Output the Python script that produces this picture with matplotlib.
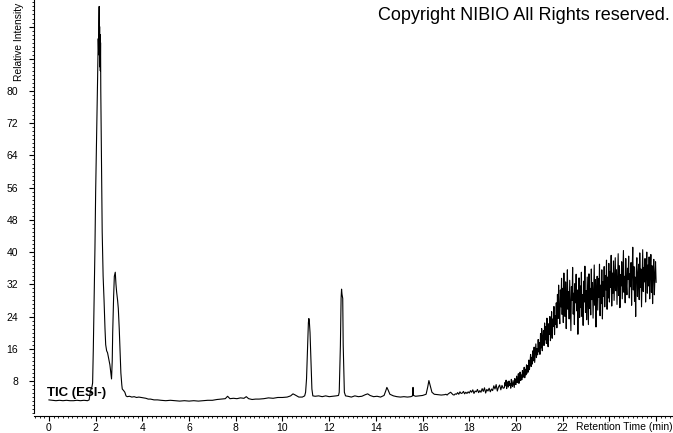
import numpy as np
import matplotlib
matplotlib.use("Agg")
import matplotlib.pyplot as plt
from matplotlib.ticker import MultipleLocator, FixedLocator, FuncFormatter

plt.rcParams["font.family"] = ["Liberation Sans", "DejaVu Sans"]

# Retention time (min) / relative intensity, peak region read point by point
peak_time = [
    0.00, 0.15, 0.30, 0.45, 0.60, 0.75, 0.90, 1.05, 1.20, 1.35, 1.50, 1.65,
    1.72, 1.76, 1.80, 1.84, 1.87, 1.90, 1.94, 1.97, 2.00, 2.04, 2.08, 2.11,
    2.13, 2.14, 2.15, 2.16, 2.17, 2.18, 2.19, 2.20, 2.21, 2.22, 2.24, 2.28,
    2.32, 2.36, 2.40, 2.43, 2.47, 2.51, 2.56, 2.61, 2.65, 2.68, 2.71, 2.73,
    2.77, 2.80, 2.84, 2.87, 2.90, 2.94, 2.97, 3.01, 3.04, 3.08, 3.12, 3.14,
    3.20, 3.25, 3.30, 3.35, 3.45, 3.55, 3.65, 3.75, 3.85, 3.95, 4.05, 4.15,
    4.25, 4.35, 4.50, 4.65, 4.80, 5.00, 5.20, 5.40, 5.60, 5.80, 6.00, 6.20,
    6.40, 6.60, 6.80, 7.00, 7.20, 7.40, 7.55, 7.65, 7.75, 7.90, 8.05, 8.20,
    8.35, 8.45, 8.55, 8.70, 8.85, 9.00, 9.20, 9.40, 9.60, 9.80, 10.00, 10.20,
    10.35, 10.45, 10.55, 10.70, 10.85, 10.95, 10.99, 11.03, 11.08, 11.11, 11.13, 11.15,
    11.18, 11.22, 11.26, 11.30, 11.40, 11.55, 11.70, 11.85, 12.00, 12.15, 12.30, 12.40,
    12.43, 12.48, 12.51, 12.53, 12.55, 12.58, 12.60, 12.65, 12.70, 12.80, 12.95, 13.10,
    13.25, 13.40, 13.55, 13.65, 13.75, 13.90, 14.05, 14.20, 14.35, 14.42, 14.47, 14.52,
    14.60, 14.75, 14.90, 15.05, 15.20, 15.35, 15.50, 15.57, 15.59, 15.61, 15.70, 15.85,
    16.00, 16.15, 16.22, 16.27, 16.32, 16.40, 16.50, 16.65, 16.80, 16.95,
]
peak_int = [
    3.3, 3.2, 3.1, 3.2, 3.1, 3.2, 3.1, 3.1, 3.2, 3.1, 3.2, 3.1,
    3.3, 4.8, 6.0, 6.5, 7.5, 16.0, 30.0, 41.0, 55.0, 68.0, 82.0, 93.0,
    89.0, 97.0, 101.0, 90.0, 96.0, 86.0, 94.0, 85.0, 92.0, 80.0, 68.0, 45.0,
    34.0, 28.0, 21.0, 17.0, 15.5, 15.0, 13.5, 12.0, 10.0, 8.5, 13.0, 20.0,
    29.0, 34.0, 35.0, 32.0, 30.0, 28.0, 26.0, 21.0, 16.0, 10.0, 7.0, 6.0,
    5.6, 5.2, 4.3, 4.1, 4.2, 4.0, 4.1, 3.9, 4.0, 3.9, 3.8, 3.7,
    3.5, 3.5, 3.3, 3.3, 3.2, 3.1, 3.2, 3.1, 3.0, 3.1, 3.0, 3.1,
    3.0, 3.1, 3.2, 3.2, 3.4, 3.5, 3.6, 4.2, 3.6, 3.7, 3.6, 3.8,
    3.7, 4.1, 3.6, 3.4, 3.5, 3.5, 3.6, 3.8, 3.7, 3.9, 3.9, 4.0,
    4.3, 4.8, 4.5, 4.0, 4.0, 4.3, 5.2, 8.5, 16.8, 22.5, 23.5, 22.8,
    20.0, 12.7, 6.0, 4.3, 4.2, 4.3, 4.1, 4.3, 4.1, 4.2, 4.3, 4.4,
    5.2, 16.8, 28.5, 30.8, 29.5, 28.5, 17.0, 5.2, 4.3, 4.2, 4.0, 4.3,
    4.1, 4.2, 4.6, 4.8, 4.4, 4.1, 4.2, 4.0, 4.4, 5.5, 6.4, 5.8,
    4.7, 4.3, 4.1, 4.0, 4.1, 4.0, 4.1, 4.3, 6.4, 4.4, 4.2, 4.3,
    4.4, 4.7, 6.5, 8.1, 7.0, 5.2, 4.7, 4.6, 4.5, 4.6,
]

# Slowly rising baseline, one reading every 0.05 min from 17.00 to 19.45
rise_start, rise_end = 17.0, 19.45
rise_int = [
    4.7, 4.5, 4.8, 5.0, 5.2, 4.9, 4.6, 4.5, 4.8, 4.7,
    5.1, 4.7, 5.3, 4.9, 5.0, 5.4, 4.8, 5.2, 4.9, 5.3,
    5.0, 5.6, 5.2, 5.8, 4.9, 5.5, 5.3, 5.9, 5.1, 5.6,
    5.2, 6.1, 5.4, 6.3, 5.0, 5.9, 5.5, 6.2, 5.3, 6.0,
    5.6, 6.8, 6.0, 7.1, 5.5, 6.5, 7.0, 5.8, 6.9, 6.2,
]

# Gradient / noisy region, one reading every 0.025 min from 19.50 to 26.00
noise_start, noise_end = 19.5, 26.0
noise_int = [
    6.3, 7.6, 6.8, 8.2, 6.1, 7.1, 7.8, 6.5, 8.0, 6.9,
    7.4, 6.2, 8.4, 7.0, 6.6, 8.1, 7.3, 6.4, 8.6, 7.2,
    7.1, 9.2, 7.6, 8.4, 9.8, 7.4, 9.0, 10.2, 8.1, 9.5,
    8.3, 10.6, 8.9, 9.7, 11.4, 8.8, 10.9, 9.5, 12.0, 9.9,
    11.8, 10.2, 13.2, 10.8, 12.5, 14.6, 11.6, 13.9, 12.2, 15.5,
    13.0, 16.4, 12.6, 15.0, 17.2, 13.8, 16.0, 14.5, 18.3, 15.2,
    17.5, 14.6, 19.8, 16.2, 21.0, 15.5, 18.8, 20.5, 16.8, 22.4,
    18.2, 21.5, 17.3, 23.6, 19.0, 16.5, 22.2, 19.6, 24.0, 18.0,
    20.8, 25.2, 18.6, 23.4, 21.6, 26.5, 19.5, 24.2, 22.0, 27.4,
    21.2, 29.5, 23.5, 31.8, 25.0, 22.2, 30.6, 26.4, 33.5, 24.5,
    31.0, 22.5, 34.8, 27.0, 24.0, 32.6, 21.0, 29.2, 35.6, 25.8,
    30.2, 23.4, 33.0, 26.6, 20.5, 31.4, 28.0, 36.2, 24.6, 29.8,
    22.0, 32.2, 27.4, 34.5, 25.4, 30.6, 19.6, 28.8, 33.6, 23.8,
    31.6, 26.2, 35.0, 24.0, 29.4, 21.8, 32.8, 27.6, 36.5, 25.0,
    30.4, 23.2, 33.8, 27.8, 22.0, 34.6, 26.0, 31.0, 24.4, 35.8,
    28.2, 32.4, 23.6, 30.8, 36.8, 26.8, 33.2, 21.4, 29.6, 34.0,
    25.6, 33.4, 28.8, 37.0, 24.2, 31.8, 27.2, 35.6, 23.4, 32.6,
    29.0, 36.4, 26.4, 34.2, 30.6, 38.0, 25.8, 33.8, 28.6, 37.2,
    27.6, 35.2, 31.2, 39.2, 26.6, 34.8, 29.8, 37.8, 28.0, 33.2,
    38.6, 30.4, 35.6, 27.0, 33.0, 39.6, 29.2, 36.6, 26.2, 34.4,
    31.6, 37.6, 28.4, 35.0, 40.4, 30.0, 34.0, 27.4, 38.4, 32.0,
    29.4, 36.0, 33.2, 39.0, 28.6, 34.6, 31.4, 37.4, 26.8, 35.4,
    41.2, 30.6, 36.4, 27.8, 33.8, 24.0, 35.2, 38.6, 29.0, 34.2,
    37.0, 28.2, 39.8, 31.2, 35.8, 26.4, 33.4, 40.6, 30.2, 36.2,
    32.6, 38.4, 27.6, 35.0, 40.0, 29.8, 36.8, 31.6, 38.8, 28.4,
    34.8, 39.4, 30.0, 36.6, 27.2, 35.6, 38.2, 29.4, 34.0, 37.6,
    32.5,
]

y_major = [8, 16, 24, 32, 40, 48, 56, 64, 72, 80, 88, 96]
y_labelled = [8, 16, 24, 32, 40, 48, 56, 64, 72, 80]
x_major = [0, 2, 4, 6, 8, 10, 12, 14, 16, 18, 20, 22, 24, 26]
x_labelled = [0, 2, 4, 6, 8, 10, 12, 14, 16, 18, 20, 22]

rise_time = np.linspace(rise_start, rise_end, len(rise_int))
noise_time = np.linspace(noise_start, noise_end, len(noise_int))
t = np.concatenate([peak_time, rise_time, noise_time])
y = np.concatenate([peak_int, rise_int, noise_int])

fig = plt.figure(figsize=(6.73, 4.33), dpi=100)
ax = fig.add_axes([34 / 673, 17 / 433, 638 / 673, 416 / 433])

ax.plot(t, y, color="black", lw=0.8)

ax.set_xlim(-0.64, 26.68)
ax.set_ylim(-0.7, 102.6)

# Axes look: only left and bottom spines, ticks outward
ax.spines["top"].set_visible(False)
ax.spines["right"].set_visible(False)
ax.spines["left"].set_bounds(0, 102.6)
for s in ["left", "bottom"]:
    ax.spines[s].set_linewidth(0.8)

ax.yaxis.set_major_locator(FixedLocator(y_major))
ax.yaxis.set_minor_locator(MultipleLocator(1))
ax.yaxis.set_major_formatter(FuncFormatter(lambda v, p: f"{v:g}" if v in y_labelled else ""))
ax.xaxis.set_major_locator(FixedLocator(x_major))
ax.xaxis.set_minor_locator(MultipleLocator(0.2))
ax.xaxis.set_major_formatter(FuncFormatter(lambda v, p: f"{v:g}" if v in x_labelled else ""))

ax.tick_params(axis="y", which="major", length=3.6, width=0.8, pad=8, labelsize=7.5)
ax.tick_params(axis="y", which="minor", length=1.8, width=0.6)
ax.tick_params(axis="x", which="major", length=3.4, width=0.8, pad=1.5, labelsize=7.5)
ax.tick_params(axis="x", which="minor", length=1.7, width=0.6)

# Labels and annotations
fig.text(18.7 / 673, (433 - 81) / 433, "Relative Intensity", rotation=90,
         ha="center", va="bottom", fontsize=7.4)
fig.text(576 / 673, (433 - 426.5) / 433, "Retention Time (min)",
         ha="left", va="center", fontsize=7.5)
fig.text(378 / 673, (433 - 20) / 433, "Copyright NIBIO All Rights reserved.",
         ha="left", va="baseline", fontsize=13)
ax.text(-0.08, 5.0, "TIC (ESI-)", ha="left", va="center",
        fontsize=9.5, fontweight="bold")

plt.savefig("out.png", dpi=100)
